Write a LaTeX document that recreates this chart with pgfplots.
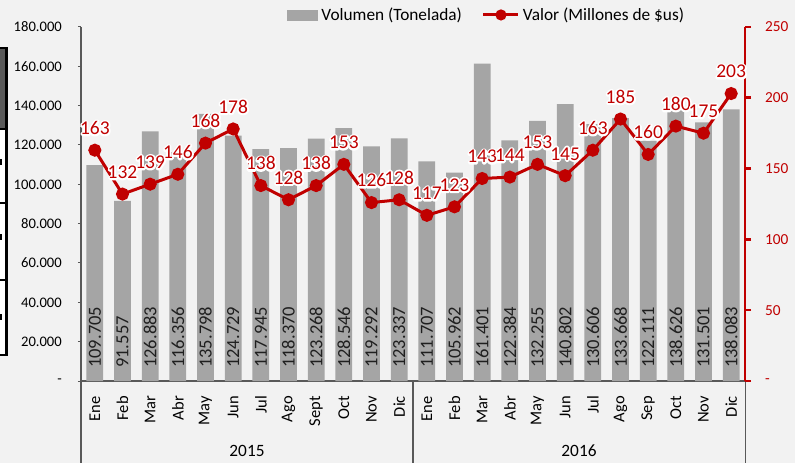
\documentclass[border=0pt]{standalone}
\usepackage{pgfplots}
\pgfplotsset{compat=1.18}
\usepackage{pgfplotstable}
\usepackage{fontspec}
\setmainfont{Carlito}
\definecolor{barcol}{HTML}{A5A5A5}
\definecolor{valred}{HTML}{C00000}
\definecolor{bgcol}{HTML}{F2F2F2}
\definecolor{axgray}{HTML}{595959}
\definecolor{framegray}{HTML}{595959}
\newcommand\halo[1]{\leavevmode\rlap{{\color{white}\special{pdf:literal direct q 1 Tr 3.6 w 1 j}#1\special{pdf:literal direct Q}}}#1}

\pgfplotstableread{
x vol val
0 109705 163
1 91557 132
2 126883 139
3 116356 146
4 135798 168
5 124729 178
6 117945 138
7 118370 128
8 123268 138
9 128546 153
10 119292 126
11 123337 128
12 111707 117
13 105962 123
14 161401 143
15 122384 144
16 132255 153
17 140802 145
18 130606 163
19 133668 185
20 122111 160
21 138626 180
22 131501 175
23 138083 203
}\datatable

\begin{document}
\begin{tikzpicture}
\path[use as bounding box] (0pt,0pt) rectangle (803pt,463pt);
\fill[bgcol] (0pt,0pt) rectangle (795pt,463pt);
% cropped neighbour frame at the left edge
\fill[white] (0pt,108pt) rectangle (6pt,415pt);
\fill[framegray] (0pt,335pt) rectangle (5pt,415pt);
\draw[black, line width=2.5pt] (-2pt,415pt) -- (6.5pt,415pt) -- (6.5pt,108pt) -- (-2pt,108pt);
\draw[black, line width=2.5pt] (-2pt,334pt) -- (6.5pt,334pt);
\draw[black, line width=2.5pt] (-2pt,260pt) -- (6.5pt,260pt);
\draw[black, line width=2.5pt] (-2pt,183pt) -- (6.5pt,183pt);
\fill[black] (0pt,298pt) rectangle (1.5pt,304pt);
\fill[black] (0pt,223pt) rectangle (1.5pt,229pt);
\fill[black] (0pt,143pt) rectangle (1.5pt,149pt);

\begin{axis}[
  at={(81pt,82pt)}, anchor=south west, scale only axis,
  width=664pt, height=354pt,
  xmin=-0.5, xmax=23.5, ymin=0, ymax=180000,
  axis x line*=bottom, axis y line*=left,
  axis line style={axgray, line width=1.2pt},
  xtick={0,...,23},
  xticklabels={Ene,Feb,Mar,Abr,May,Jun,Jul,Ago,Sept,Oct,Nov,Dic,Ene,Feb,Mar,Abr,May,Jun,Jul,Ago,Sep,Oct,Nov,Dic},
  x tick style={draw=none},
  x tick label style={rotate=90, anchor=east, inner sep=0pt, font=\fontsize{16.5}{18}\selectfont},
  xticklabel shift=12pt,
  ytick={0,20000,...,180000},
  yticklabels={{-\hspace{9pt}},20.000,40.000,60.000,80.000,100.000,120.000,140.000,160.000,180.000},
  y tick style={axgray, line width=1pt},
  y tick label style={font=\fontsize{14.6}{16}\selectfont, inner sep=0pt},
  yticklabel shift=16pt,
  tick align=outside, major tick length=3pt,
  scaled y ticks=false,
  clip=false,
]
\addplot[ybar, bar width=16.7pt, fill=barcol, draw=none] table[x=x, y=vol] {\datatable};
\addplot[draw=none, mark=none,
  nodes near coords={\pgfmathprintnumber[fixed,precision=0,1000 sep={.},assume math mode=true]{\pgfplotspointmeta}},
  nodes near coords style={font=\fontsize{18.5}{20}\selectfont, text=black!88, inner sep=0pt, anchor=west, rotate=90, xshift=13pt},
  point meta=\thisrow{vol}] table[x=x, y expr=0] {\datatable};
\node[font=\fontsize{17.3}{19}\selectfont] at (axis cs:5.5,0) [yshift=-70pt] {2015};
\node[font=\fontsize{17.3}{19}\selectfont] at (axis cs:17.5,0) [yshift=-70pt] {2016};
\draw[axgray, line width=1.2pt] (axis cs:-0.5,0) -- ++(0pt,-82pt);
\draw[axgray, line width=1.2pt] (axis cs:11.5,0) -- ++(0pt,-82pt);
\draw[axgray, line width=1pt] (axis cs:23.5,0) -- ++(0pt,-82pt);
\end{axis}

\begin{axis}[
  at={(81pt,82pt)}, anchor=south west, scale only axis,
  width=664pt, height=354pt,
  xmin=-0.5, xmax=23.5, ymin=0, ymax=250,
  axis x line=none, axis y line*=right,
  y axis line style={valred, line width=2.6pt},
  ytick={0,50,...,250}, yticklabels={-,50,100,150,200,250},
  y tick style={valred, line width=2.6pt},
  tick align=outside, major tick length=6pt,
  y tick label style={font=\fontsize{15.3}{17}\selectfont, text=valred, inner sep=0pt},
  yticklabel shift=14pt,
  clip=false,
  legend style={at={(0.31,1.034)}, anchor=west, draw=none, fill=none,
    legend columns=2, font=\fontsize{17.3}{19}\selectfont, inner sep=0pt,
    nodes={inner sep=0pt}, column sep=0pt},
  legend cell align=left,
]
\addlegendimage{legend image code/.code={\fill[barcol] (0pt,-5pt) rectangle (30pt,5pt);}}
\addlegendentry{\hspace{4pt}Volumen (Tonelada)\rule{20pt}{0pt}}
\addplot[valred, line width=3pt, mark=*, mark size=5pt, mark options={fill=valred},
  nodes near coords={\halo{\pgfplotspointmeta}},
  nodes near coords style={font=\fontsize{19.5}{21}\selectfont, text=valred, inner sep=0pt, anchor=south, yshift=14pt},
  point meta=explicit symbolic,
  legend image code/.code={\draw[mark repeat=2, mark phase=2, mark size=4pt] plot coordinates {(0pt,0pt) (17.5pt,0pt) (35pt,0pt)};}
] table[x=x, y=val, meta=val] {\datatable};
\addlegendentry{\hspace{3pt}Valor (Millones de \$us)}
\end{axis}
\end{tikzpicture}
\end{document}
